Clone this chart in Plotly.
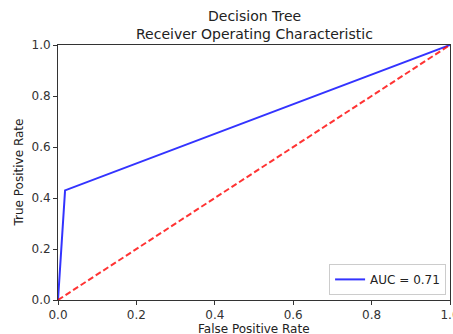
import plotly.graph_objects as go

fpr = [0.0, 0.018, 1.0]
tpr = [0.0, 0.43, 1.0]
diag_x = [0.0, 1.0]
diag_y = [0.0, 1.0]
auc_label = "AUC = 0.71"
title_lines = ["Decision Tree", "Receiver Operating Characteristic"]
x_title = "False Positive Rate"
y_title = "True Positive Rate"
tick_vals = [0.0, 0.2, 0.4, 0.6, 0.8, 1.0]
tick_text = ["0.0", "0.2", "0.4", "0.6", "0.8", "1.0"]

fig = go.Figure()
fig.add_trace(go.Scatter(x=fpr, y=tpr, mode="lines", name=auc_label,
                         line=dict(color="rgba(0,0,255,0.8)", width=2)))
fig.add_trace(go.Scatter(x=diag_x, y=diag_y, mode="lines", showlegend=False,
                         line=dict(color="rgba(255,0,0,0.8)", width=2, dash="6px,3px")))

axis_common = dict(range=[0, 1], tickvals=tick_vals, ticktext=tick_text,
                   showgrid=False, zeroline=False, showline=True, mirror=True,
                   linecolor="#333", linewidth=1, ticks="outside", ticklen=4,
                   tickcolor="#333", tickfont=dict(size=12, color="#333"),
                   automargin=False, ticklabeloverflow="allow")

fig.update_layout(
    width=453, height=334,
    margin=dict(l=58, r=3, t=45, b=34),
    paper_bgcolor="white", plot_bgcolor="white",
    font=dict(family="DejaVu Sans", color="#222"),
    xaxis=axis_common,
    yaxis=axis_common,
    legend=dict(x=0.99, y=0.02, xanchor="right", yanchor="bottom",
                bgcolor="white", bordercolor="#ccc", borderwidth=1,
                font=dict(size=12, color="#222")),
)
fig.add_annotation(text=title_lines[0], xref="paper", yref="paper", x=0.5, y=1,
                   xanchor="center", yanchor="middle", yshift=29, showarrow=False,
                   font=dict(size=14, color="#222"))
fig.add_annotation(text=title_lines[1], xref="paper", yref="paper", x=0.5, y=1,
                   xanchor="center", yanchor="middle", yshift=11, showarrow=False,
                   font=dict(size=14, color="#222"))
fig.add_annotation(text=x_title, xref="paper", yref="paper", x=0.5, y=0,
                   xanchor="center", yanchor="middle", yshift=-29, showarrow=False,
                   font=dict(size=12, color="#222"))
fig.add_annotation(text=y_title, xref="paper", yref="paper", x=0, y=0.5,
                   xanchor="center", yanchor="middle", xshift=-40, textangle=-90,
                   showarrow=False, font=dict(size=12, color="#222"))

fig.write_html("out.html")
